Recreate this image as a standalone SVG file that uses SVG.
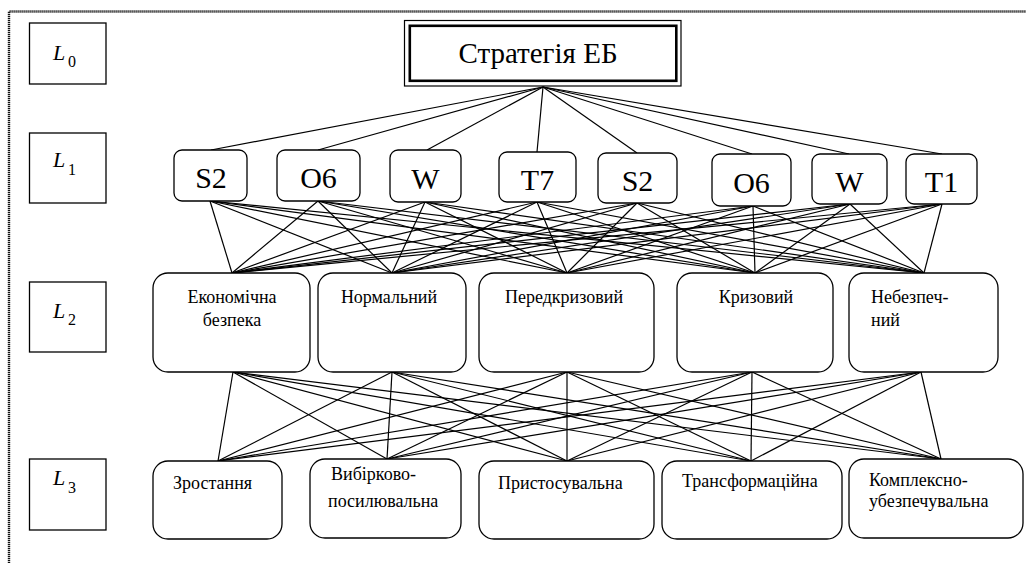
<svg xmlns="http://www.w3.org/2000/svg" width="1026" height="563" viewBox="0 0 1026 563">
<style>
.bg{fill:#fff}
.frame{fill:none;stroke:#111;stroke-width:2.4;stroke-dasharray:1.2 0.8}
.lbl{fill:#fff;stroke:#000;stroke-width:1.3}
.nd{fill:#fff;stroke:#000;stroke-width:1.3}
.lines line{stroke:#000;stroke-width:1.2}
.big{font-size:30px;text-anchor:middle}
.title{font-size:29px;text-anchor:middle}
.t2{font-size:18px}
.mid{text-anchor:middle}
.L{font-size:22px;font-style:italic}
.sub{font-size:16px}
</style>
<rect class="bg" x="0" y="0" width="1026" height="563"/>
<path class="frame" d="M9,563 V11.5 H1026"/>

<g id="connectors" class="lines">
<line x1="543" y1="87" x2="211" y2="150"/>
<line x1="543" y1="87" x2="318" y2="150"/>
<line x1="543" y1="87" x2="427" y2="150"/>
<line x1="543" y1="87" x2="537" y2="152"/>
<line x1="543" y1="87" x2="637" y2="153"/>
<line x1="543" y1="87" x2="752" y2="154"/>
<line x1="543" y1="87" x2="849" y2="154"/>
<line x1="543" y1="87" x2="942" y2="154"/>
<line x1="210" y1="201" x2="232" y2="273"/><line x1="210" y1="201" x2="392" y2="273"/><line x1="210" y1="201" x2="567" y2="273"/><line x1="210" y1="201" x2="755" y2="273"/><line x1="210" y1="201" x2="924" y2="273"/>
<line x1="318" y1="201" x2="232" y2="273"/><line x1="318" y1="201" x2="392" y2="273"/><line x1="318" y1="201" x2="567" y2="273"/><line x1="318" y1="201" x2="755" y2="273"/><line x1="318" y1="201" x2="924" y2="273"/>
<line x1="425" y1="202" x2="232" y2="273"/><line x1="425" y1="202" x2="392" y2="273"/><line x1="425" y1="202" x2="567" y2="273"/><line x1="425" y1="202" x2="755" y2="273"/><line x1="425" y1="202" x2="924" y2="273"/>
<line x1="537" y1="202" x2="232" y2="273"/><line x1="537" y1="202" x2="392" y2="273"/><line x1="537" y1="202" x2="567" y2="273"/><line x1="537" y1="202" x2="755" y2="273"/><line x1="537" y1="202" x2="924" y2="273"/>
<line x1="637" y1="203" x2="232" y2="273"/><line x1="637" y1="203" x2="392" y2="273"/><line x1="637" y1="203" x2="567" y2="273"/><line x1="637" y1="203" x2="755" y2="273"/><line x1="637" y1="203" x2="924" y2="273"/>
<line x1="753" y1="206" x2="232" y2="273"/><line x1="753" y1="206" x2="392" y2="273"/><line x1="753" y1="206" x2="567" y2="273"/><line x1="753" y1="206" x2="755" y2="273"/><line x1="753" y1="206" x2="924" y2="273"/>
<line x1="850" y1="204" x2="232" y2="273"/><line x1="850" y1="204" x2="392" y2="273"/><line x1="850" y1="204" x2="567" y2="273"/><line x1="850" y1="204" x2="755" y2="273"/><line x1="850" y1="204" x2="924" y2="273"/>
<line x1="942" y1="204" x2="232" y2="273"/><line x1="942" y1="204" x2="392" y2="273"/><line x1="942" y1="204" x2="567" y2="273"/><line x1="942" y1="204" x2="755" y2="273"/><line x1="942" y1="204" x2="924" y2="273"/>
<line x1="233" y1="372" x2="218" y2="461"/><line x1="233" y1="372" x2="387" y2="459"/><line x1="233" y1="372" x2="567" y2="461"/><line x1="233" y1="372" x2="751" y2="461"/><line x1="233" y1="372" x2="941" y2="459"/>
<line x1="392" y1="372" x2="218" y2="461"/><line x1="392" y1="372" x2="387" y2="459"/><line x1="392" y1="372" x2="567" y2="461"/><line x1="392" y1="372" x2="751" y2="461"/><line x1="392" y1="372" x2="941" y2="459"/>
<line x1="567" y1="372" x2="218" y2="461"/><line x1="567" y1="372" x2="387" y2="459"/><line x1="567" y1="372" x2="567" y2="461"/><line x1="567" y1="372" x2="751" y2="461"/><line x1="567" y1="372" x2="941" y2="459"/>
<line x1="752" y1="372" x2="218" y2="461"/><line x1="752" y1="372" x2="387" y2="459"/><line x1="752" y1="372" x2="567" y2="461"/><line x1="752" y1="372" x2="751" y2="461"/><line x1="752" y1="372" x2="941" y2="459"/>
<line x1="921" y1="372" x2="218" y2="461"/><line x1="921" y1="372" x2="387" y2="459"/><line x1="921" y1="372" x2="567" y2="461"/><line x1="921" y1="372" x2="751" y2="461"/><line x1="921" y1="372" x2="941" y2="459"/>
</g>

<g fill="#000" font-family="'Liberation Serif', 'Noto Sans CJK SC', serif">
<g id="lev0"><rect class="lbl" x="29.5" y="23" width="76.5" height="61"/><text x="53" y="60" class="L" font-family="'Liberation Serif', 'Noto Sans CJK SC', serif">L</text><text x="68" y="67" class="sub" font-family="'Liberation Serif', 'Noto Sans CJK SC', serif">0</text></g>
<g id="lev1"><rect class="lbl" x="29.5" y="133" width="76.5" height="70"/><text x="53" y="167" class="L" font-family="'Liberation Serif', 'Noto Sans CJK SC', serif">L</text><text x="68" y="175" class="sub" font-family="'Liberation Serif', 'Noto Sans CJK SC', serif">1</text></g>
<g id="lev2"><rect class="lbl" x="29.5" y="282" width="76.5" height="70"/><text x="53" y="318" class="L" font-family="'Liberation Serif', 'Noto Sans CJK SC', serif">L</text><text x="68" y="325" class="sub" font-family="'Liberation Serif', 'Noto Sans CJK SC', serif">2</text></g>
<g id="lev3"><rect class="lbl" x="29.5" y="459" width="76.5" height="71"/><text x="53" y="485" class="L" font-family="'Liberation Serif', 'Noto Sans CJK SC', serif">L</text><text x="68" y="493" class="sub" font-family="'Liberation Serif', 'Noto Sans CJK SC', serif">3</text></g>

<g id="root">
<rect x="404.5" y="20.5" width="276.5" height="65.5" fill="#fff" stroke="#000" stroke-width="1.2"/>
<rect x="409.8" y="25.8" width="266.5" height="55" fill="none" stroke="#000" stroke-width="2.6"/>
<text x="538" y="63" class="title" font-family="'Liberation Serif', 'Noto Sans CJK SC', serif">Стратегія ЕБ</text>
</g>

<g id="n-s2a"><rect class="nd" x="174" y="150" width="73" height="51" rx="8"/><text x="211" y="188" class="big" font-family="'Liberation Serif', 'Noto Sans CJK SC', serif">S2</text></g>
<g id="n-o6a"><rect class="nd" x="277" y="150" width="83" height="51" rx="8"/><text x="318.5" y="188" class="big" font-family="'Liberation Serif', 'Noto Sans CJK SC', serif">O6</text></g>
<g id="n-wa"><rect class="nd" x="390" y="150" width="71" height="52" rx="8"/><text x="425.5" y="188.5" class="big" font-family="'Liberation Serif', 'Noto Sans CJK SC', serif">W</text></g>
<g id="n-t7"><rect class="nd" x="499" y="152" width="77" height="50" rx="8"/><text x="537.5" y="189.5" class="big" font-family="'Liberation Serif', 'Noto Sans CJK SC', serif">T7</text></g>
<g id="n-s2b"><rect class="nd" x="598" y="153" width="79" height="50" rx="8"/><text x="637.5" y="190.5" class="big" font-family="'Liberation Serif', 'Noto Sans CJK SC', serif">S2</text></g>
<g id="n-o6b"><rect class="nd" x="712" y="154" width="79" height="52" rx="8"/><text x="751.5" y="192.5" class="big" font-family="'Liberation Serif', 'Noto Sans CJK SC', serif">O6</text></g>
<g id="n-wb"><rect class="nd" x="812" y="154" width="75" height="50" rx="8"/><text x="849.5" y="191.5" class="big" font-family="'Liberation Serif', 'Noto Sans CJK SC', serif">W</text></g>
<g id="n-t1"><rect class="nd" x="906" y="154" width="71" height="50" rx="8"/><text x="941.5" y="191.5" class="big" font-family="'Liberation Serif', 'Noto Sans CJK SC', serif">T1</text></g>

<g id="n-eb"><rect class="nd" x="153" y="273" width="157" height="99" rx="15"/><text x="232" y="303" class="t2 mid" font-family="'Liberation Serif', 'Noto Sans CJK SC', serif">Економічна</text><text x="232" y="326" class="t2 mid" font-family="'Liberation Serif', 'Noto Sans CJK SC', serif">безпека</text></g>
<g id="n-norm"><rect class="nd" x="318" y="273" width="148" height="99" rx="15"/><text x="389" y="303" class="t2 mid" font-family="'Liberation Serif', 'Noto Sans CJK SC', serif">Нормальний</text></g>
<g id="n-pered"><rect class="nd" x="479" y="273" width="175" height="99" rx="15"/><text x="564" y="303" class="t2 mid" font-family="'Liberation Serif', 'Noto Sans CJK SC', serif">Передкризовий</text></g>
<g id="n-kryz"><rect class="nd" x="677" y="273" width="156" height="99" rx="15"/><text x="756" y="303" class="t2 mid" font-family="'Liberation Serif', 'Noto Sans CJK SC', serif">Кризовий</text></g>
<g id="n-nebez"><rect class="nd" x="849" y="273" width="149" height="99" rx="15"/><text x="871" y="303" class="t2" font-family="'Liberation Serif', 'Noto Sans CJK SC', serif">Небезпеч-</text><text x="871" y="326" class="t2" font-family="'Liberation Serif', 'Noto Sans CJK SC', serif">ний</text></g>

<g id="n-zrost"><rect class="nd" x="153" y="461" width="129" height="78" rx="15"/><text x="173" y="489" class="t2" font-family="'Liberation Serif', 'Noto Sans CJK SC', serif">Зростання</text></g>
<g id="n-vybir"><rect class="nd" x="310" y="459" width="151" height="79" rx="15"/><text x="331" y="480" class="t2" font-family="'Liberation Serif', 'Noto Sans CJK SC', serif">Вибірково-</text><text x="328" y="507" class="t2" font-family="'Liberation Serif', 'Noto Sans CJK SC', serif">посилювальна</text></g>
<g id="n-prist"><rect class="nd" x="479" y="461" width="175" height="78" rx="15"/><text x="498" y="489" class="t2" font-family="'Liberation Serif', 'Noto Sans CJK SC', serif">Пристосувальна</text></g>
<g id="n-trans"><rect class="nd" x="662" y="461" width="180" height="78" rx="15"/><text x="682" y="487" class="t2" font-family="'Liberation Serif', 'Noto Sans CJK SC', serif" font-size="16.5">Трансформаційна</text></g>
<g id="n-kompl"><rect class="nd" x="849" y="459" width="174" height="79" rx="15"/><text x="869" y="486" class="t2" font-family="'Liberation Serif', 'Noto Sans CJK SC', serif">Комплексно-</text><text x="869" y="507" class="t2" font-family="'Liberation Serif', 'Noto Sans CJK SC', serif">убезпечувальна</text></g>
</g>
</svg>
